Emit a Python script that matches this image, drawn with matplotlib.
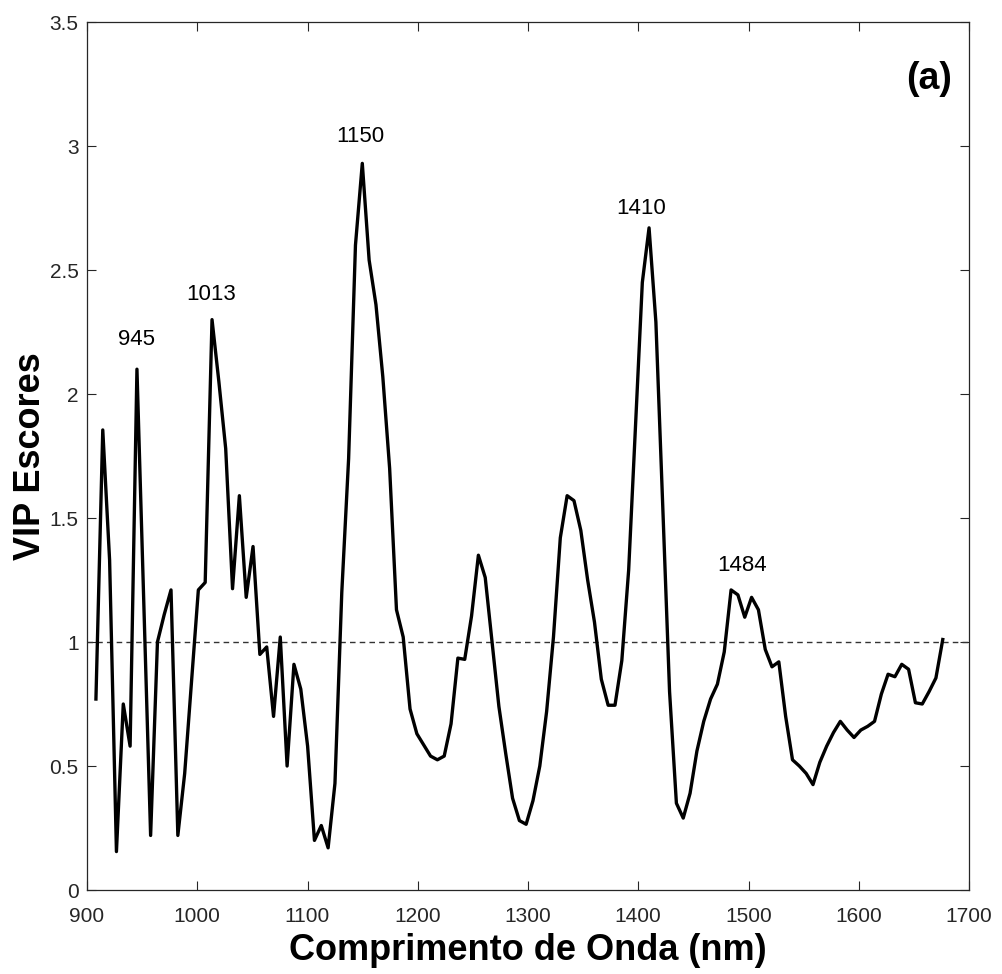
import matplotlib
matplotlib.use("Agg")
import matplotlib.pyplot as plt

plt.rcParams['font.family'] = ['Liberation Sans', 'DejaVu Sans']

# wavelengths (nm), 125 channels
wavelength = [
    908.1, 914.3, 920.5, 926.7, 932.9, 939.1, 945.3, 951.5, 957.7, 963.9,
    970.0, 976.2, 982.4, 988.6, 994.8, 1001.0, 1007.2, 1013.4, 1019.6, 1025.8,
    1032.0, 1038.2, 1044.4, 1050.6, 1056.8, 1063.0, 1069.2, 1075.3, 1081.5, 1087.7,
    1093.9, 1100.1, 1106.3, 1112.5, 1118.7, 1124.9, 1131.1, 1137.3, 1143.5, 1149.7,
    1155.9, 1162.1, 1168.3, 1174.5, 1180.7, 1186.8, 1193.0, 1199.2, 1205.4, 1211.6,
    1217.8, 1224.0, 1230.2, 1236.4, 1242.6, 1248.8, 1255.0, 1261.2, 1267.4, 1273.6,
    1279.8, 1286.0, 1292.2, 1298.3, 1304.5, 1310.7, 1316.9, 1323.1, 1329.3, 1335.5,
    1341.7, 1347.9, 1354.1, 1360.3, 1366.5, 1372.7, 1378.9, 1385.1, 1391.3, 1397.5,
    1403.7, 1409.8, 1416.0, 1422.2, 1428.4, 1434.6, 1440.8, 1447.0, 1453.2, 1459.4,
    1465.6, 1471.8, 1478.0, 1484.2, 1490.4, 1496.6, 1502.8, 1509.0, 1515.2, 1521.3,
    1527.5, 1533.7, 1539.9, 1546.1, 1552.3, 1558.5, 1564.7, 1570.9, 1577.1, 1583.3,
    1589.5, 1595.7, 1601.9, 1608.1, 1614.3, 1620.5, 1626.6, 1632.8, 1639.0, 1645.2,
    1651.4, 1657.6, 1663.8, 1670.0, 1676.2,
]

vip = [
    0.77, 1.855, 1.33, 0.155, 0.75, 0.58, 2.10, 1.16, 0.22, 1.00,
    1.11, 1.21, 0.22, 0.47, 0.84, 1.21, 1.24, 2.30, 2.05, 1.78,
    1.215, 1.59, 1.18, 1.385, 0.95, 0.98, 0.70, 1.02, 0.50, 0.91,
    0.81, 0.58, 0.20, 0.26, 0.17, 0.43, 1.20, 1.74, 2.60, 2.93,
    2.54, 2.36, 2.07, 1.70, 1.13, 1.02, 0.73, 0.63, 0.585, 0.54,
    0.525, 0.54, 0.67, 0.935, 0.93, 1.105, 1.35, 1.26, 1.00, 0.74,
    0.55, 0.37, 0.28, 0.265, 0.36, 0.50, 0.72, 1.02, 1.42, 1.59,
    1.57, 1.45, 1.25, 1.08, 0.85, 0.745, 0.745, 0.925, 1.29, 1.87,
    2.45, 2.67, 2.29, 1.55, 0.80, 0.35, 0.29, 0.39, 0.56, 0.68,
    0.77, 0.83, 0.96, 1.21, 1.19, 1.10, 1.18, 1.13, 0.97, 0.90,
    0.92, 0.70, 0.525, 0.50, 0.47, 0.425, 0.515, 0.58, 0.635, 0.68,
    0.645, 0.615, 0.645, 0.66, 0.68, 0.79, 0.87, 0.86, 0.91, 0.89,
    0.755, 0.75, 0.80, 0.855, 1.01,
]

peak_labels = ['945', '1013', '1150', '1410', '1484']
label_x = [945, 1013, 1148, 1403, 1494]
label_y = [2.22, 2.40, 3.04, 2.75, 1.31]

fig = plt.figure(figsize=(10.02, 9.74), dpi=100)
ax = fig.add_axes([87 / 1002, 1 - 890 / 974, (969 - 87) / 1002, (890 - 22) / 974])

ax.plot(wavelength, vip, color='black', lw=2.4, zorder=3)
ax.axhline(1, color='#333333', lw=1.0, ls=(0, (4, 3)), zorder=2)

for lab, lx, ly in zip(peak_labels, label_x, label_y):
    ax.text(lx, ly, lab, ha='center', va='center', fontsize=16)

ax.text(1664, 3.27, '(a)', ha='center', va='center', fontsize=27, fontweight='bold')

ax.set_xlim(900, 1700)
ax.set_ylim(0, 3.5)
ax.set_xticks(range(900, 1701, 100))
ax.set_yticks([0, 0.5, 1, 1.5, 2, 2.5, 3, 3.5])
ax.set_yticklabels(['0', '0.5', '1', '1.5', '2', '2.5', '3', '3.5'])
ax.tick_params(direction='in', length=6.5, width=0.8, colors='#262626',
               labelsize=15, top=True, right=True, pad=6)
ax.tick_params(axis='x', pad=12)
for s in ax.spines.values():
    s.set_color('#262626')
    s.set_linewidth(0.9)

ax.set_xlabel('Comprimento de Onda (nm)', fontsize=26, fontweight='bold', labelpad=5)
ax.set_ylabel('VIP Escores', fontsize=26, fontweight='bold', labelpad=1)

fig.savefig('out.png', dpi=100)
